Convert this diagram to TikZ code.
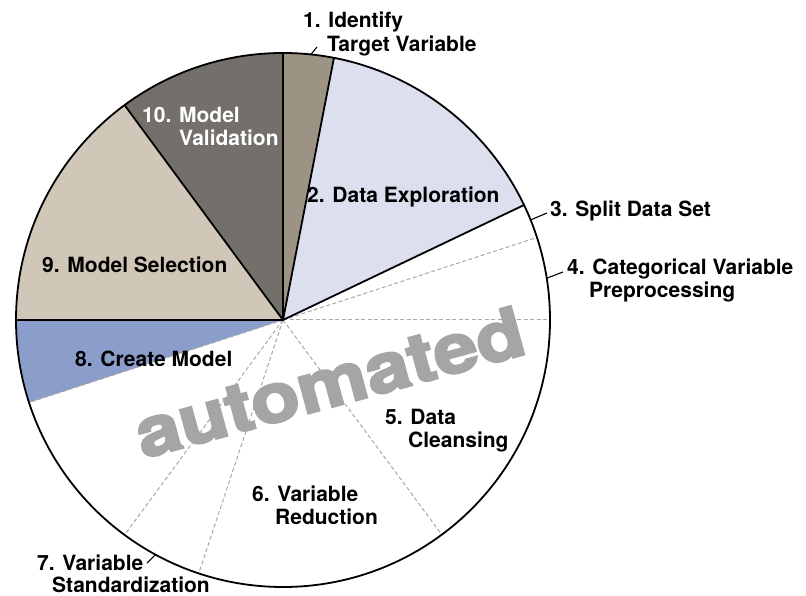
\documentclass[tikz,border=0pt]{standalone}
\usepackage{fontspec}
\setmainfont{TeX Gyre Heros}
\newfontfamily\heavyfont{texgyreheros-bold.otf}[FakeBold=3]
\usepackage{graphicx}
\definecolor{cOne}{HTML}{9D9384}
\definecolor{cTwo}{HTML}{DCDFEE}
\definecolor{cEight}{HTML}{8B9DCA}
\definecolor{cNine}{HTML}{D1C7B8}
\definecolor{cTen}{HTML}{736F6A}
\definecolor{cAuto}{HTML}{A5A5A5}
\definecolor{cDash}{HTML}{A8A8A8}
\newcommand{\twol}[4]{{\fontsize{21}{#3}\selectfont\begin{tabular}[t]{@{}l@{}}#1\\\hspace*{#2}#4\end{tabular}}}
\tikzset{
  lbl/.style={anchor=base west, inner sep=0pt, font=\fontsize{21}{23}\selectfont\bfseries},
  sepline/.style={draw=black, line width=1.8pt},
  dashline/.style={draw=cDash, line width=1pt, dash pattern=on 4pt off 2.5pt},
  leader/.style={draw=black, line width=1.1pt},
}
\begin{document}
\begin{tikzpicture}[x=1pt,y=1pt]
\useasboundingbox (0,0) rectangle (806,596);
\def\R{267pt}
\coordinate (C) at (283,276);
% fills
\fill[cOne]   (C) -- ++(79:\R)   arc[start angle=79,   end angle=90,   radius=\R] -- cycle;
\fill[cTwo]   (C) -- ++(25.5:\R) arc[start angle=25.5, end angle=79,   radius=\R] -- cycle;
\fill[cTen]   (C) -- ++(90:\R)   arc[start angle=90,   end angle=126.4,radius=\R] -- cycle;
\fill[cNine]  (C) -- ++(126.4:\R) arc[start angle=126.4, end angle=180, radius=\R] -- cycle;
\fill[cEight] (C) -- ++(180:\R)  arc[start angle=180,  end angle=198,  radius=\R] -- cycle;
% watermark
\node[rotate=15.3, anchor=base, inner sep=0pt, text=cAuto, font=\fontsize{69}{69}\selectfont\heavyfont] (auto) at (336,190) {\scalebox{1.15}[1]{automated}};
% dashed sub-boundaries
\foreach \a/\n in {18/d1, 0/d2, -53.5/d3, -108.4/d4, -126.4/d5, -162/d6}{
  \path (C) ++(\a:\R) coordinate (\n);
  \draw[dashline] (C) -- (\n);
}
% solid boundaries
\foreach \a/\n in {90/s1, 79/s2, 25.5/s3, 180/s4, 126.4/s5}{
  \path (C) ++(\a:\R) coordinate (\n);
  \draw[sepline] (C) -- (\n);
}
\draw[line width=1.8pt] (C) circle[radius=\R];
% labels
\node[lbl] (l1) at (303,568) {\twol{1. Identify}{24pt}{24pt}{Target Variable}};
\node[lbl] (l2) at (307,393) {2. Data Exploration};
\node[lbl] (l3) at (550,379) {3. Split Data Set};
\node[lbl] (l4) at (567,321) {\twol{4. Categorical Variable}{22pt}{23pt}{Preprocessing}};
\node[lbl] (l5) at (385,171) {\twol{5. Data}{23pt}{23pt}{Cleansing}};
\node[lbl] (l6) at (252,94)  {\twol{6. Variable}{23pt}{22pt}{Reduction}};
\node[lbl] (l7) at (37,25)   {\twol{7. Variable}{15pt}{20pt}{Standardization}};
\node[lbl] (l8) at (75,229)  {8. Create Model};
\node[lbl] (l9) at (42,323)  {9. Model Selection};
\node[lbl, text=white] (l10) at (142,473) {\twol{10. Model}{37pt}{22pt}{Validation}};
% leaders
\path (C) ++(84:\R) coordinate (p1);
\path (C) ++(22:\R) coordinate (p3);
\path (C) ++(9:\R) coordinate (p4);
\path (C) ++(-118.5:\R) coordinate (p7);
\coordinate (q1) at (317,549);
\coordinate (q3) at (547,383);
\coordinate (q4) at (563,324);
\coordinate (q7) at (147,33);
\draw[leader] (p1) -- (q1);
\draw[leader] (p3) -- (q3);
\draw[leader] (p4) -- (q4);
\draw[leader] (p7) -- (q7);
\end{tikzpicture}
\end{document}
